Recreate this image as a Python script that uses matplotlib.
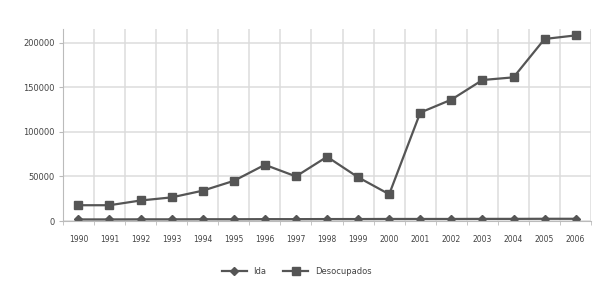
import matplotlib
matplotlib.use("Agg")
import matplotlib.pyplot as plt

years = [str(y) for y in range(1990, 2007)]
ida = [1800, 1800, 1900, 1900, 2000, 2000, 2100, 2100, 2200, 2200, 2300, 2300, 2300, 2400, 2400, 2500, 2500]
desocupados = [17700, 17700, 23000, 26500, 34000, 45000, 63000, 50000, 72000, 49000,
               30000, 121500, 136000, 158000, 161000, 204000, 208000]
yticks = [0, 50000, 100000, 150000, 200000]

fig = plt.figure(figsize=(5.93, 2.83), dpi=100)
ax = fig.add_axes([0.106, 0.219, 0.891, 0.678])
x = list(range(len(years)))
col = "#555555"
ax.plot(x, ida, color=col, lw=1.6, marker="D", ms=3.8, label="Ida")
ax.plot(x, desocupados, color=col, lw=1.6, marker="s", ms=5.5, label="Desocupados")

ax.set_xlim(-0.5, len(years) - 0.5)
ax.set_ylim(0, 215000)
ax.set_yticks(yticks)
ax.set_yticklabels([str(v) for v in yticks], fontsize=6, color="#444444")
ax.set_xticks(x)
ax.set_xticklabels(years, fontsize=5.5, color="#444444")
ax.set_xticks([i - 0.5 for i in range(len(years) + 1)], minor=True)
ax.tick_params(axis="x", which="major", length=0, pad=10)
ax.tick_params(axis="x", which="minor", length=3, color="#bbbbbb")
ax.tick_params(axis="y", length=3, color="#bbbbbb", pad=3)
ax.grid(True, axis="x", which="minor", color="#dcdcdc", lw=1.1)
ax.grid(True, axis="y", which="major", color="#dcdcdc", lw=1.1)
ax.set_axisbelow(True)
for s in ["top", "right"]:
    ax.spines[s].set_visible(False)
ax.spines["left"].set_color("#bbbbbb")
ax.spines["bottom"].set_color("#bbbbbb")

fig.legend(loc="lower center", bbox_to_anchor=(0.5, 0.0), ncol=2, frameon=False,
           fontsize=6, labelcolor="#444444", handlelength=3)
fig.savefig("out.png", dpi=100)
